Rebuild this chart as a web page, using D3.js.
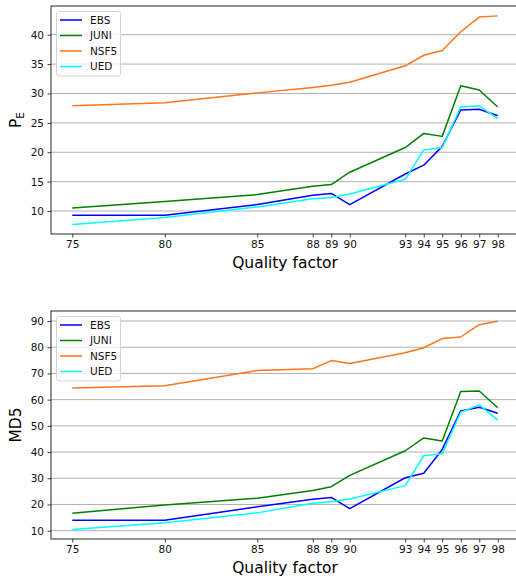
<!DOCTYPE html>
<html>
<head>
<meta charset="utf-8">
<script src="https://cdn.jsdelivr.net/npm/d3@7"></script>
<style>
  body { margin: 0; background: #fff; }
  svg { display: block; font-family: "DejaVu Sans", sans-serif; }
</style>
</head>
<body>
<script>
// quality factors on the x axis
let quality = [75, 80, 85, 88, 89, 90, 93, 94, 95, 96, 97, 98];
let methods = ["EBS", "JUNI", "NSF5", "UED"];
let colors = ["#0000ff", "#008000", "#ff7517", "#00ffff"];

// top panel, P_E
let peEBS  = [9.3, 9.3, 11.1, 12.7, 13.0, 11.1, 16.3, 17.8, 21.0, 27.2, 27.3, 26.2];
let peJUNI = [10.5, 11.6, 12.8, 14.2, 14.5, 16.6, 20.8, 23.2, 22.7, 31.3, 30.6, 27.7];
let peNSF5 = [27.9, 28.4, 30.1, 31.0, 31.4, 31.9, 34.7, 36.5, 37.3, 40.5, 43.0, 43.2];
let peUED  = [7.7, 8.9, 10.7, 12.1, 12.3, 12.9, 15.4, 20.4, 20.8, 27.7, 27.9, 25.7];
let peTicks = [10, 15, 20, 25, 30, 35, 40];

// bottom panel, MD5
let mdEBS  = [14.0, 14.0, 19.1, 22.0, 22.7, 18.4, 30.2, 31.9, 41.0, 55.7, 57.1, 54.8];
let mdJUNI = [16.7, 19.8, 22.4, 25.3, 26.8, 31.1, 40.5, 45.4, 44.2, 63.1, 63.3, 56.9];
let mdNSF5 = [64.4, 65.3, 71.1, 71.8, 74.9, 73.8, 77.9, 79.8, 83.3, 83.9, 88.6, 89.9];
let mdUED  = [10.5, 13.0, 16.8, 20.5, 21.0, 22.1, 27.2, 38.6, 39.4, 55.2, 58.0, 52.2];
let mdTicks = [10, 20, 30, 40, 50, 60, 70, 80, 90];

let canvas = d3.select("body")
            .append("svg")
            .attr("width", 516)
            .attr("height", 579);

let x = d3.scaleLinear().domain([73.85, 99.15]).range([51, 519]);

let drawPanel = (series, yDomain, top, bottom, ticks, ylabel) => {
    let y = d3.scaleLinear().domain(yDomain).range([bottom, top]);
    let g = canvas.append("g");

    // grid lines
    g.selectAll(".grid").data(ticks).enter().append("line")
        .attr("x1", 51).attr("x2", 519)
        .attr("y1", d => y(d)).attr("y2", d => y(d))
        .attr("stroke", "#b0b0b0").attr("stroke-width", 1);

    // series
    let line = d3.line()
        .x((d, i) => x(quality[i]))
        .y(d => y(d));
    series.forEach((s, k) => {
        g.append("path").datum(s)
            .attr("d", line)
            .attr("fill", "none")
            .attr("stroke", colors[k])
            .attr("stroke-width", 1.5)
            .attr("stroke-linejoin", "round");
    });

    // axes
    let xAxis = g.append("g")
        .attr("transform", `translate(0,${bottom})`)
        .call(d3.axisBottom(x).tickValues(quality).tickSize(3.5).tickPadding(3.5).tickFormat(d3.format("d")));
    let yAxis = g.append("g")
        .attr("transform", "translate(51,0)")
        .call(d3.axisLeft(y).tickValues(ticks).tickSize(3.5).tickPadding(3.5));
    [xAxis, yAxis].forEach(a => {
        a.select(".domain").remove();
        a.selectAll("text").attr("font-size", 10.5).attr("fill", "#111")
            .attr("font-family", "DejaVu Sans, sans-serif");
        a.selectAll("line").attr("stroke", "#111").attr("stroke-width", 0.8);
    });

    // frame
    g.append("rect")
        .attr("x", 51).attr("y", top)
        .attr("width", 468).attr("height", bottom - top)
        .attr("fill", "none").attr("stroke", "#111").attr("stroke-width", 0.9);

    // labels
    g.append("text")
        .attr("x", 285).attr("y", bottom + 34)
        .attr("text-anchor", "middle")
        .attr("font-size", 15.5)
        .text("Quality factor");
    let yl = g.append("text")
        .attr("transform", `translate(21,${(top + bottom) / 2}) rotate(-90)`)
        .attr("text-anchor", "middle")
        .attr("font-size", 15.5);
    if (ylabel == "PE") {
        yl.append("tspan").text("P");
        yl.append("tspan").attr("font-size", 10.5).attr("dy", 3).text("E");
    } else {
        yl.text(ylabel);
    }

    // legend
    let lg = g.append("g").attr("transform", `translate(56.5,${top + 5.5})`);
    lg.append("rect")
        .attr("width", 64).attr("height", 64.5)
        .attr("rx", 2.5)
        .attr("fill", "#fff").attr("fill-opacity", 0.8)
        .attr("stroke", "#d0d0d0").attr("stroke-width", 0.9);
    methods.forEach((m, k) => {
        let yy = 8.5 + k * 15.5;
        lg.append("line")
            .attr("x1", 3.5).attr("x2", 25.5)
            .attr("y1", yy).attr("y2", yy)
            .attr("stroke", colors[k]).attr("stroke-width", 1.5);
        lg.append("text")
            .attr("x", 33.5).attr("y", yy + 3.8)
            .attr("font-size", 10.5).attr("fill", "#111")
            .text(m);
    });
};

drawPanel([peEBS, peJUNI, peNSF5, peUED], [6.09, 44.88], 6, 234, peTicks, "PE");
drawPanel([mdEBS, mdJUNI, mdNSF5, mdUED], [6.83, 93.82], 311, 539, mdTicks, "MD5");
</script>
</body>
</html>
